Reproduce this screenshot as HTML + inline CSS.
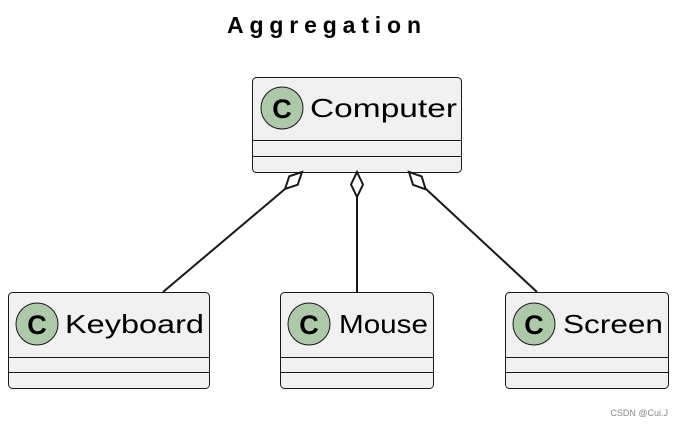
<!DOCTYPE html>
<html><head><style>
body{margin:0;background:#fff;}
svg{display:block;}
text{font-family:"Liberation Sans",sans-serif;}
</style></head><body>
<svg width="680" height="428" viewBox="0 0 680 428" xmlns="http://www.w3.org/2000/svg">
<text x="227" y="33" font-size="23" font-weight="bold" textLength="194" lengthAdjust="spacing" fill="#000">Aggregation</text>
<g stroke="#181818" stroke-width="1" fill="#f1f1f1">
<rect x="252.5" y="77.5" width="209" height="95" rx="4"/>
<rect x="8.5" y="292.5" width="201" height="96" rx="4"/>
<rect x="280.5" y="292.5" width="153" height="96" rx="4"/>
<rect x="505.5" y="292.5" width="163" height="96" rx="4"/>
<line x1="253" y1="140.5" x2="461" y2="140.5"/>
<line x1="253" y1="156.5" x2="461" y2="156.5"/>
<line x1="9" y1="357.5" x2="209" y2="357.5"/>
<line x1="9" y1="372.5" x2="209" y2="372.5"/>
<line x1="281" y1="357.5" x2="433" y2="357.5"/>
<line x1="281" y1="372.5" x2="433" y2="372.5"/>
<line x1="506" y1="357.5" x2="668" y2="357.5"/>
<line x1="506" y1="372.5" x2="668" y2="372.5"/>
</g>
<g fill="#adc9a9" stroke="#181818" stroke-width="1">
<circle cx="282" cy="108" r="21"/>
<circle cx="37" cy="324" r="21"/>
<circle cx="309" cy="324" r="21"/>
<circle cx="534" cy="324" r="21"/>
</g>
<g font-size="27" font-weight="bold" text-anchor="middle" fill="#000">
<text x="282" y="118">C</text><text x="37" y="334">C</text><text x="309" y="334">C</text><text x="534" y="334">C</text>
</g>
<g font-size="26" fill="#000">
<text x="310" y="117" textLength="147" lengthAdjust="spacingAndGlyphs">Computer</text>
<text x="65" y="333" textLength="139" lengthAdjust="spacingAndGlyphs">Keyboard</text>
<text x="339" y="333" textLength="89" lengthAdjust="spacingAndGlyphs">Mouse</text>
<text x="563" y="333" textLength="100" lengthAdjust="spacingAndGlyphs">Screen</text>
</g>
<g stroke="#181818" stroke-width="2" fill="#fff">
<line x1="285" y1="189" x2="163" y2="292"/>
<line x1="357" y1="197" x2="357" y2="292"/>
<line x1="426" y1="189" x2="537" y2="292"/>
<polygon points="357,172 363,184.5 357,197 351,184.5"/>
<polygon points="0,0 12,-6 24,0 12,6" transform="translate(302,172) rotate(135)"/>
<polygon points="0,0 12,-6 24,0 12,6" transform="translate(409,172) rotate(46)"/>
</g>
<text x="668" y="416" font-size="9" fill="#888" text-anchor="end">CSDN @Cui.J</text>
</svg>
</body></html>
